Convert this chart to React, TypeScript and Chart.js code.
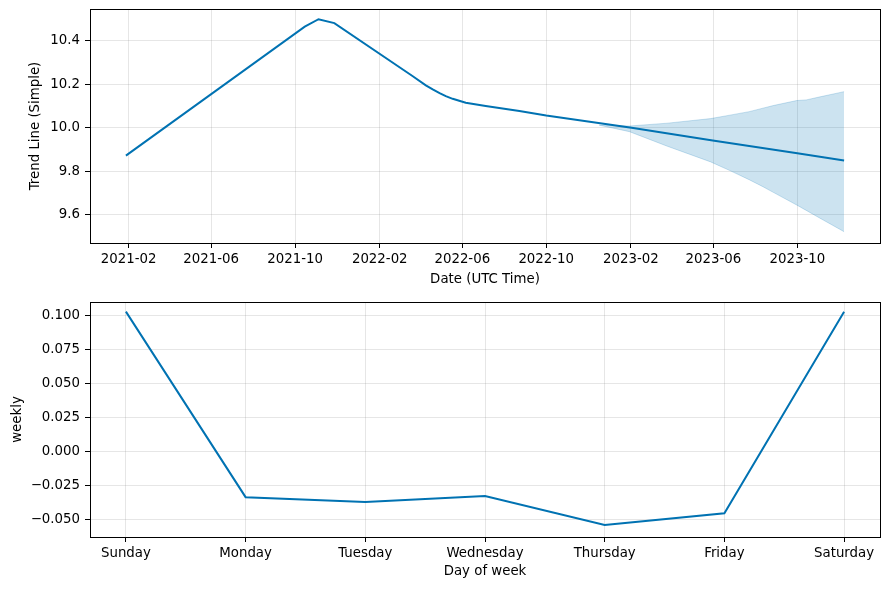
import React, { useEffect, useRef } from 'react';
import { Chart, registerables } from 'chart.js';

Chart.register(...registerables);

// ---------- Data ----------
const trendDates = ['2021-01-28', '2021-10-15', '2021-11-04', '2021-11-27', '2022-03-20', '2022-04-09', '2022-04-19', '2022-04-29', '2022-05-08', '2022-05-18', '2022-06-06', '2022-07-05', '2022-08-23', '2022-10-01', '2023-02-02', '2023-05-31', '2023-10-01', '2023-12-08'];
const trendValues = [9.873, 10.466, 10.5, 10.482, 10.24, 10.196, 10.177, 10.16, 10.146, 10.134, 10.116, 10.101, 10.078, 10.057, 10.001, 9.942, 9.884, 9.85];

const bandDates = ['2022-12-17', '2023-01-30', '2023-03-26', '2023-05-28', '2023-06-25', '2023-07-23', '2023-08-12', '2023-08-27', '2023-09-30', '2023-10-14', '2023-11-03', '2023-12-08'];
const bandUpper = [10.013, 10.009, 10.022, 10.043, 10.059, 10.075, 10.091, 10.103, 10.126, 10.129, 10.143, 10.167];
const bandLower = [10.013, 9.983, 9.916, 9.844, 9.804, 9.762, 9.73, 9.704, 9.646, 9.621, 9.585, 9.523];

const dateTickLabels = ['2021-02', '2021-06', '2021-10', '2022-02', '2022-06', '2022-10', '2023-02', '2023-06', '2023-10'];
const trendYTicks = [9.6, 9.8, 10.0, 10.2, 10.4];
const trendYTickLabels = ['9.6', '9.8', '10.0', '10.2', '10.4'];
const trendYMin = 9.471;
const trendYMax = 10.547;

const days = ['Sunday', 'Monday', 'Tuesday', 'Wednesday', 'Thursday', 'Friday', 'Saturday'];
const weeklyValues = [0.1029, -0.0335, -0.037, -0.0326, -0.0539, -0.0453, 0.1029];
const weeklyYTicks = [-0.05, -0.025, 0, 0.025, 0.05, 0.075, 0.1];
const weeklyYTickLabels = ['\u22120.050', '\u22120.025', '0.000', '0.025', '0.050', '0.075', '0.100'];
const weeklyYMin = -0.0628;
const weeklyYMax = 0.11;

// ---------- Styles ----------
const BLUE = '#0072B2';
const BAND = 'rgba(0,114,178,0.2)';
const GRID = 'rgba(128,128,128,0.2)';
const FONT = { family: 'DejaVu Sans', size: 13.33 };
const W = 889;
const H1 = 294;
const H2 = 295;

const toMs = (d: string) => Date.parse(d + 'T00:00:00Z');

const framePlugin = {
  id: 'frame',
  afterDraw(chart: any) {
    const { ctx, chartArea } = chart;
    ctx.save();
    ctx.strokeStyle = '#000';
    ctx.lineWidth = 1;
    ctx.strokeRect(
      Math.round(chartArea.left) + 0.5,
      Math.round(chartArea.top) + 0.5,
      Math.round(chartArea.right - chartArea.left),
      Math.round(chartArea.bottom - chartArea.top)
    );
    ctx.restore();
  },
};

function margin(min: number, max: number) {
  const span = max - min;
  return [min - 0.05 * span, max + 0.05 * span];
}

const zeroPad = (s: any) => {
  s.paddingTop = 0;
  s.paddingBottom = 0;
  s.paddingLeft = 0;
  s.paddingRight = 0;
};

function makeTopConfig(): any {
  const xs = trendDates.map(toMs);
  const [xMin, xMax] = margin(xs[0], xs[xs.length - 1]);
  const xTickValues = dateTickLabels.map((l) => toMs(l + '-01'));
  return {
    type: 'line',
    data: {
      datasets: [
        {
          data: trendDates.map((d, i) => ({ x: toMs(d), y: trendValues[i] })),
          borderColor: BLUE,
          borderWidth: 2,
          pointRadius: 0,
          tension: 0,
          fill: false,
          order: 0,
        },
        {
          data: bandDates.map((d, i) => ({ x: toMs(d), y: bandUpper[i] })),
          borderColor: BAND,
          borderWidth: 1,
          pointRadius: 0,
          tension: 0,
          fill: false,
          order: 1,
        },
        {
          data: bandDates.map((d, i) => ({ x: toMs(d), y: bandLower[i] })),
          borderColor: BAND,
          backgroundColor: BAND,
          borderWidth: 1,
          pointRadius: 0,
          tension: 0,
          fill: '-1',
          order: 1,
        },
      ],
    },
    options: {
      animation: false,
      responsive: false,
      parsing: false,
      layout: { padding: { left: 0, right: 9, top: 9, bottom: 0 } },
      plugins: { legend: { display: false }, tooltip: { enabled: false } },
      scales: {
        x: {
          type: 'linear',
          min: xMin,
          max: xMax,
          afterBuildTicks: (s: any) => {
            s.ticks = xTickValues.map((v) => ({ value: v }));
          },
          afterFit: (s: any) => {
            s.height = 51;
            zeroPad(s);
          },
          ticks: {
            callback: (_v: any, i: number) => dateTickLabels[i],
            font: FONT,
            color: '#000',
            padding: 4,
            maxRotation: 0,
            autoSkip: false,
          },
          grid: { color: GRID, tickColor: '#000', tickLength: 5, lineWidth: 1 },
          border: { display: false },
          title: { display: true, text: 'Date (UTC Time)', font: FONT, color: '#000', padding: { top: 0, bottom: 6 } },
        },
        y: {
          type: 'linear',
          min: trendYMin,
          max: trendYMax,
          afterBuildTicks: (s: any) => {
            s.ticks = trendYTicks.map((v) => ({ value: v }));
          },
          afterFit: (s: any) => {
            s.width = 90;
            zeroPad(s);
          },
          ticks: {
            callback: (_v: any, i: number) => trendYTickLabels[i],
            font: FONT,
            color: '#000',
            padding: 5,
            autoSkip: false,
          },
          grid: { color: GRID, tickColor: '#000', tickLength: 5, lineWidth: 1 },
          border: { display: false },
          title: { display: true, text: 'Trend Line (Simple)', font: FONT, color: '#000', padding: { top: 28, bottom: 0 } },
        },
      },
    },
    plugins: [framePlugin],
  };
}

function makeBottomConfig(): any {
  const [xMin, xMax] = margin(0, days.length - 1);
  return {
    type: 'line',
    data: {
      datasets: [
        {
          data: days.map((_d, i) => ({ x: i, y: weeklyValues[i] })),
          borderColor: BLUE,
          borderWidth: 2,
          pointRadius: 0,
          tension: 0,
          fill: false,
        },
      ],
    },
    options: {
      animation: false,
      responsive: false,
      parsing: false,
      layout: { padding: { left: 0, right: 9, top: 8, bottom: 0 } },
      plugins: { legend: { display: false }, tooltip: { enabled: false } },
      scales: {
        x: {
          type: 'linear',
          min: xMin,
          max: xMax,
          afterBuildTicks: (s: any) => {
            s.ticks = days.map((_d, i) => ({ value: i }));
          },
          afterFit: (s: any) => {
            s.height = 52;
            zeroPad(s);
          },
          ticks: {
            callback: (_v: any, i: number) => days[i],
            font: FONT,
            color: '#000',
            padding: 4,
            maxRotation: 0,
            autoSkip: false,
          },
          grid: { color: GRID, tickColor: '#000', tickLength: 5, lineWidth: 1 },
          border: { display: false },
          title: { display: true, text: 'Day of week', font: FONT, color: '#000', padding: { top: 0, bottom: 9 } },
        },
        y: {
          type: 'linear',
          min: weeklyYMin,
          max: weeklyYMax,
          afterBuildTicks: (s: any) => {
            s.ticks = weeklyYTicks.map((v) => ({ value: v }));
          },
          afterFit: (s: any) => {
            s.width = 90;
            zeroPad(s);
          },
          ticks: {
            callback: (_v: any, i: number) => weeklyYTickLabels[i],
            font: FONT,
            color: '#000',
            padding: 5,
            autoSkip: false,
          },
          grid: { color: GRID, tickColor: '#000', tickLength: 5, lineWidth: 1 },
          border: { display: false },
          title: { display: true, text: 'weekly', font: FONT, color: '#000', padding: { top: 10, bottom: 0 } },
        },
      },
    },
    plugins: [framePlugin],
  };
}

export default function App() {
  const topRef = useRef<HTMLCanvasElement>(null);
  const botRef = useRef<HTMLCanvasElement>(null);

  useEffect(() => {
    const c1 = new Chart(topRef.current as HTMLCanvasElement, makeTopConfig());
    const c2 = new Chart(botRef.current as HTMLCanvasElement, makeBottomConfig());
    return () => {
      c1.destroy();
      c2.destroy();
    };
  }, []);

  return (
    <div style={{ position: 'absolute', left: 0, top: 0, width: W, height: H1 + H2, background: '#fff' }}>
      <canvas ref={topRef} width={W} height={H1} style={{ display: 'block', width: W, height: H1 }} />
      <canvas ref={botRef} width={W} height={H2} style={{ display: 'block', width: W, height: H2 }} />
    </div>
  );
}
